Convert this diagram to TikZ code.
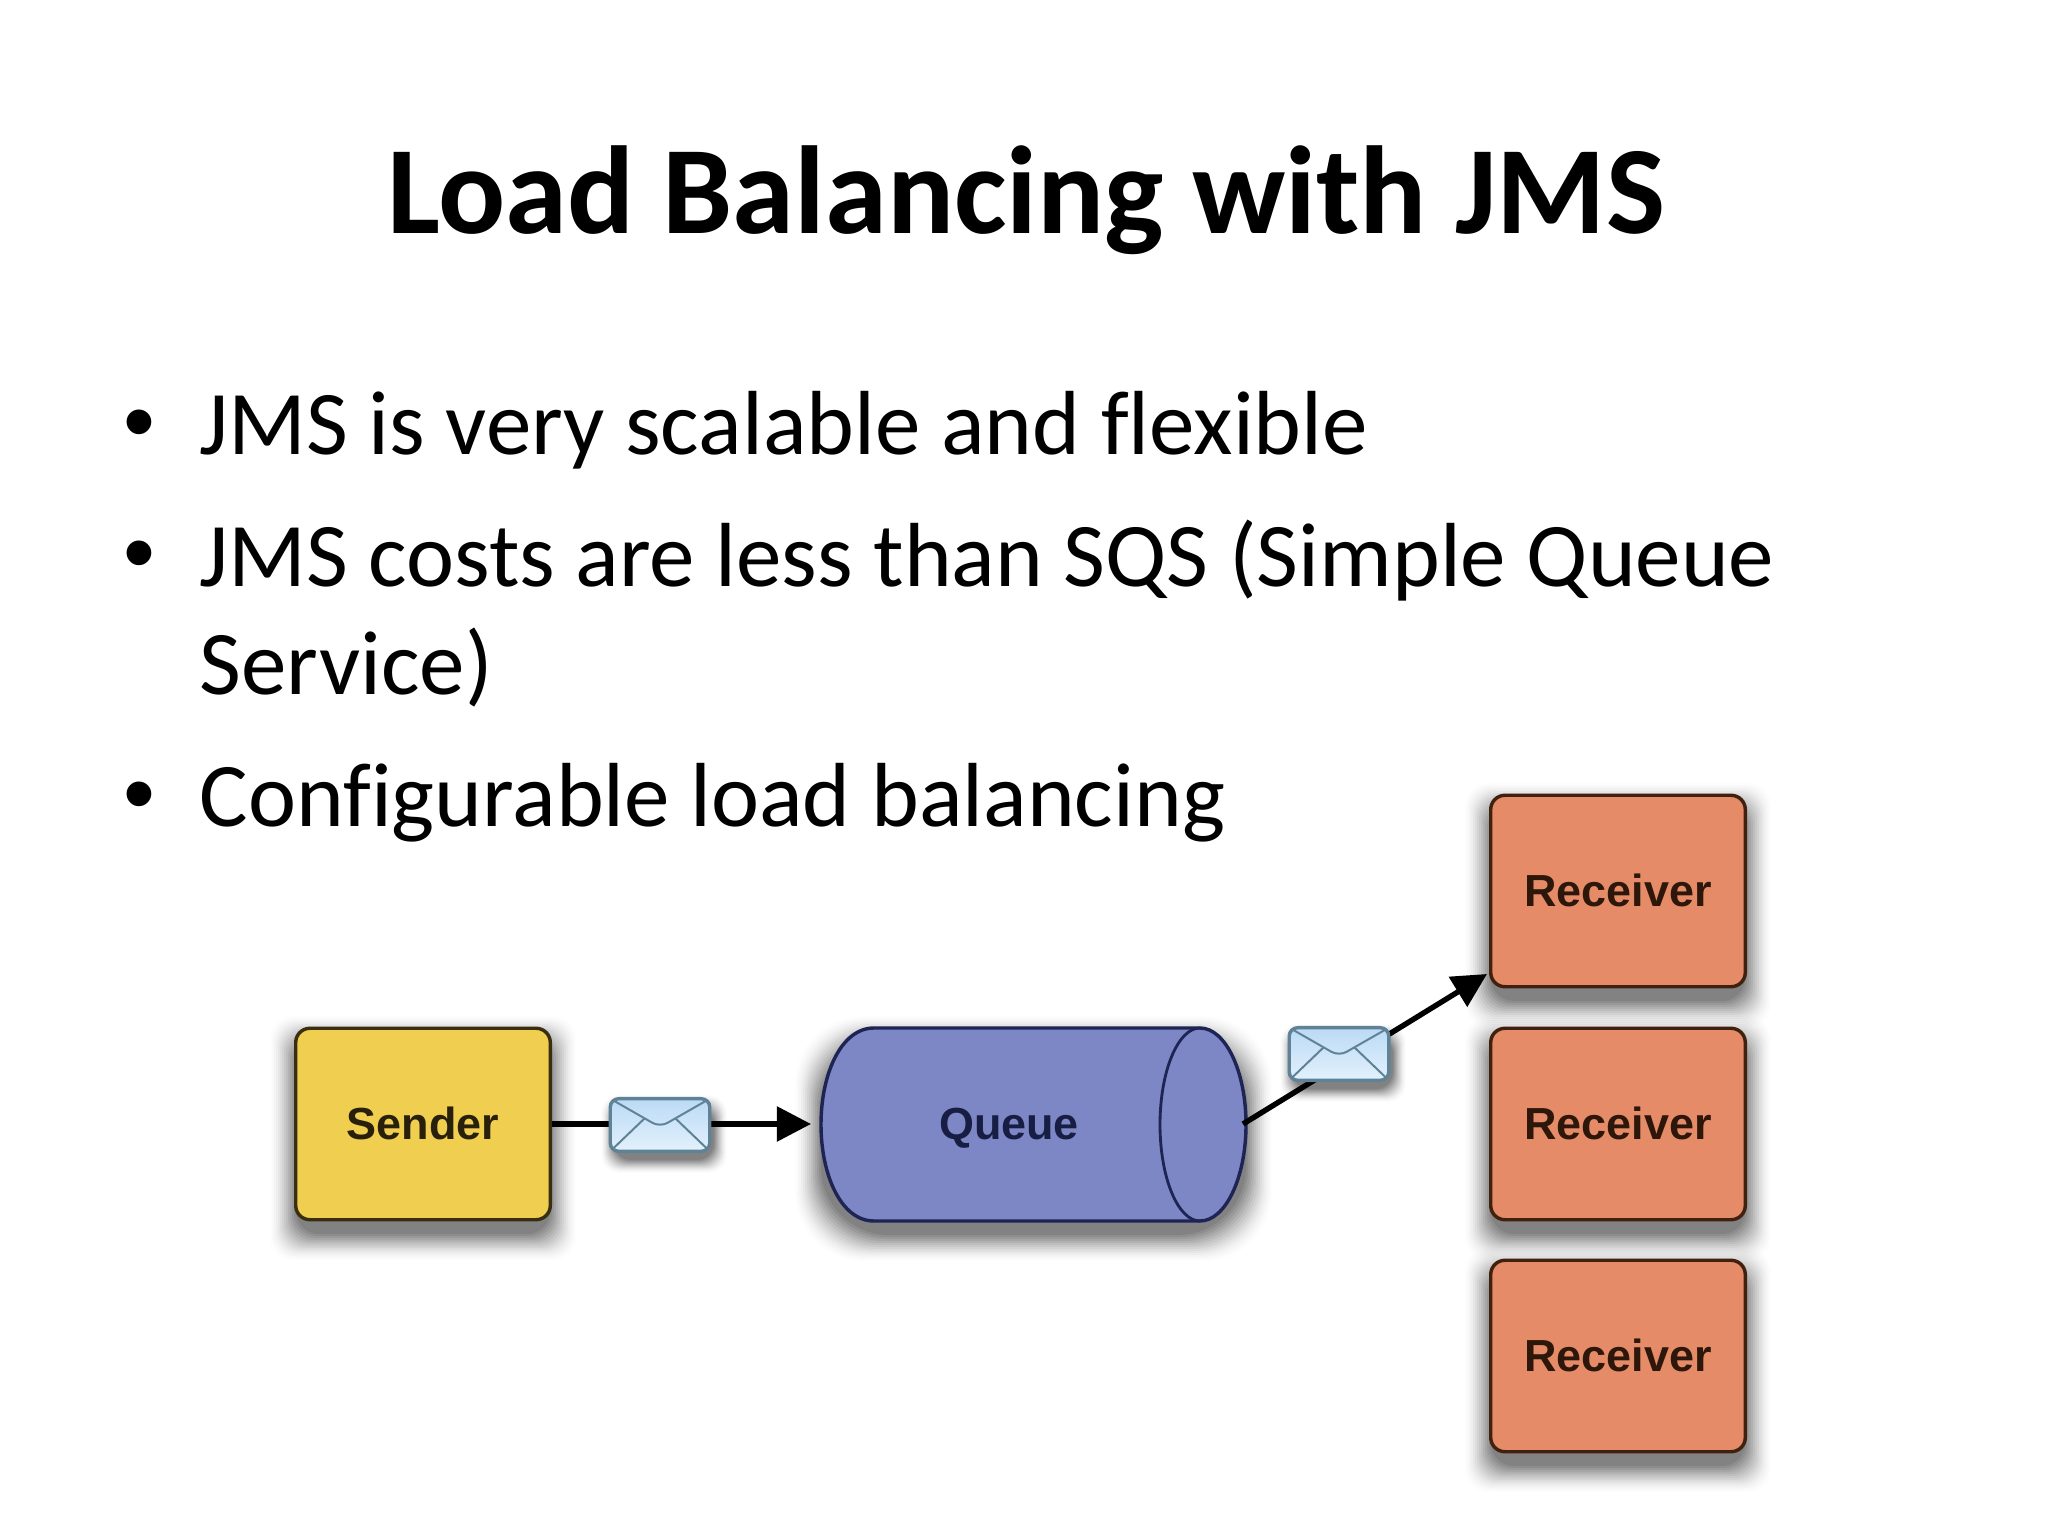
\documentclass[tikz,border=0pt]{standalone}
\usepackage{fontspec}
\setmainfont{Carlito}[Ligatures=NoCommon]
\newfontfamily\labelfont{Liberation Sans}
\usetikzlibrary{arrows.meta}
\definecolor{senderfill}{HTML}{F0CE50}
\definecolor{senderline}{HTML}{3A2E10}
\definecolor{queuefill}{HTML}{7E87C6}
\definecolor{queueline}{HTML}{1E2554}
\definecolor{recvfill}{HTML}{E58B68}
\definecolor{recvline}{HTML}{40200F}
\definecolor{envtop}{HTML}{BBDAF5}
\definecolor{envbot}{HTML}{E3F1FC}
\definecolor{envline}{HTML}{5F8296}
% soft shadow: x1,y1,x2,y2,corner radius,downward shift,spread step (picture pixels)
\newcommand{\softshade}[7]{%
  \foreach \i in {1,...,14}{%
    \pgfmathsetmacro\spreadpx{(14-\i)*#7}%
    \pgfmathsetmacro\alphaval{.003+.0055*\i}%
    \fill[black,opacity=\alphaval,rounded corners=#5]
      (#1-\spreadpx,#2-\spreadpx+#6) rectangle (#3+\spreadpx,#4+\spreadpx+#6);
  }%
}
\tikzset{
  titletext/.style={anchor=base,inner sep=0pt,font=\fontsize{44}{44}\selectfont\bfseries},
  bodytext/.style={anchor=base west,inner sep=0pt,font=\fontsize{32}{32}\selectfont},
  bullettext/.style={anchor=base,inner sep=0pt,font=\labelfont\fontsize{32}{32}\selectfont},
  boxlabel/.style={font=\labelfont\fontsize{15.8}{16}\selectfont\bfseries},
  sendbox/.style={draw=senderline,fill=senderfill,line width=1.2pt,rounded corners=5pt,minimum width=89.5pt,minimum height=67.3pt,inner sep=0pt,text=senderline!70!black,boxlabel},
  recvbox/.style={draw=recvline,fill=recvfill,line width=1.2pt,rounded corners=5pt,minimum width=89.5pt,minimum height=67.3pt,inner sep=0pt,text=recvline!70!black,boxlabel},
  queuelabel/.style={inner sep=0pt,text=queueline!80!black,boxlabel},
  flow/.style={line width=1.9pt,black,-{Triangle[length=12pt,width=12pt]}},
  envelope/.style={draw=envline,line width=1.2pt,rounded corners=3pt,top color=envtop,bottom color=envbot,minimum width=35pt,minimum height=18.5pt,inner sep=0pt,
    path picture={
      \draw[envline,line width=.7pt] (path picture bounding box.north west) -- ([yshift=-10pt]path picture bounding box.north) -- (path picture bounding box.north east);
      \draw[envline,line width=.7pt] (path picture bounding box.south west) -- ([xshift=12pt,yshift=-7pt]path picture bounding box.north west);
      \draw[envline,line width=.7pt] (path picture bounding box.south east) -- ([xshift=-12pt,yshift=-7pt]path picture bounding box.north east);
    }},
}
\begin{document}
\begin{tikzpicture}[x=0.3515625pt,y=-0.3515625pt]
\useasboundingbox (0,0) rectangle (2048,1536);
\fill[white] (0,0) rectangle (2048,1536);
\node[titletext] (title) at (1026,234) {Load Balancing with JMS};
\node[bullettext] (b1) at (139,453) {•};
\node[bodytext] (t1) at (199,455) {JMS is very scalable and flexible};
\node[bullettext] (b2) at (139,584) {•};
\node[bodytext] (t2) at (199,586) {JMS costs are less than SQS (Simple Queue};
\node[bodytext] (t2b) at (199,695) {Service)};
\node[bullettext] (b3) at (139,824) {•};
\node[bodytext] (t3) at (199,826) {Configurable load balancing};

\softshade{296}{1028}{550}{1220}{8pt}{14}{2}
\softshade{1491}{795}{1745}{987}{8pt}{14}{2}
\softshade{1491}{1028}{1745}{1220}{8pt}{14}{2}
\softshade{1491}{1260}{1745}{1452}{8pt}{14}{2}
\softshade{821}{1028}{1246}{1221}{24pt}{14}{2}

\node[sendbox] (sender) at (423,1124) {\raisebox{.5pt}{Sender}};
\node[recvbox] (r1) at (1618,891) {\raisebox{.9pt}{Receiver}};
\node[recvbox] (r2) at (1618,1124) {\raisebox{.9pt}{Receiver}};
\node[recvbox] (r3) at (1618,1356) {\raisebox{.9pt}{Receiver}};

% queue body
\path[draw=queueline,fill=queuefill,line width=1.2pt]
  (874,1028) -- (1200,1028) arc[start angle=-90,end angle=90,x radius=46,y radius=96.5]
  -- (874,1221) .. controls (841,1221) and (821,1175) .. (821,1124.5) .. controls (821,1074) and (841,1028) .. (874,1028) -- cycle;
\draw[queueline,line width=1pt] (1200,1028) arc[start angle=-90,end angle=-270,x radius=40,y radius=96.5];
\node[queuelabel] (queue) at (1009,1128) {Queue};
\coordinate (qin) at (811,1124);
\coordinate (qout) at (1243,1124);
\coordinate (tip) at (1487,974);

\draw[flow] (sender.east) -- (qin);
\draw[flow] (qout) -- (tip);
\softshade{614}{1099}{714}{1151}{6pt}{9}{1}
\softshade{1293}{1028}{1393}{1080}{6pt}{9}{1}
\node[envelope] (m1) at (660,1125) {};
\node[envelope] (m2) at (1339,1054) {};
\end{tikzpicture}
\end{document}
